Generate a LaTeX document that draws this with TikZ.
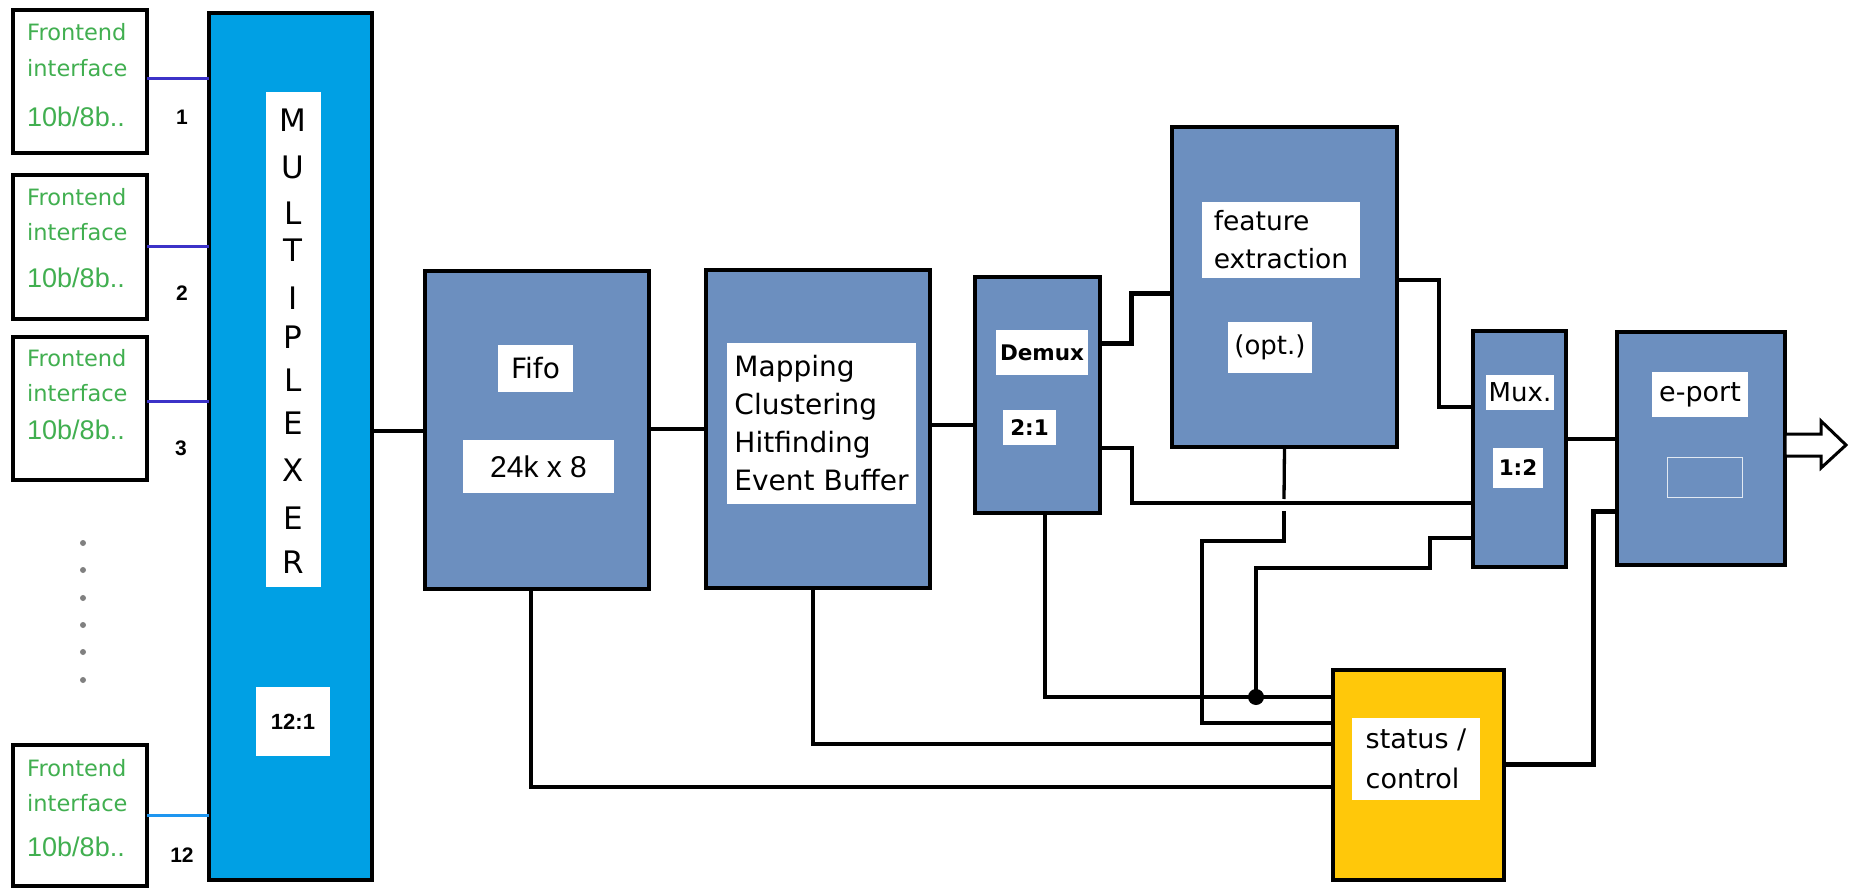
\documentclass[tikz,border=0pt]{standalone}
\usepackage{fontspec}
\setmainfont{DejaVu Sans}
\newfontfamily\arialf{Liberation Sans}
\definecolor{muxblue}{RGB}{0,160,228}
\definecolor{blkblue}{RGB}{108,143,191}
\definecolor{statyel}{RGB}{255,200,10}
\definecolor{fegreen}{RGB}{65,175,80}
\definecolor{wireA}{RGB}{60,50,200}
\definecolor{wireB}{RGB}{30,150,240}
\begin{document}
\begin{tikzpicture}[x=1pt,y=-1pt,
  box/.style={draw=black, line width=4.5pt, anchor=north west, inner sep=0pt, outer sep=0pt},
  blk/.style={box, fill=blkblue},
  febox/.style={draw=black, line width=4pt, anchor=north west, inner sep=0pt, outer sep=0pt, fill=white, minimum width=134},
  lbl/.style={fill=white, anchor=north west, inner sep=0pt, outer sep=0pt, font=\fontsize{27}{38}\selectfont},
  fetxt/.style={anchor=west, inner sep=0pt, text=fegreen, font=\fontsize{22.5}{26}\selectfont},
  fenum/.style={anchor=west, inner sep=0pt, text=fegreen, font=\arialf\fontsize{27}{30}\selectfont},
  numl/.style={inner sep=0pt, font=\arialf\bfseries\fontsize{21}{24}\selectfont},
  muxl/.style={inner sep=0pt, font=\fontsize{31}{36}\selectfont},
  bl/.style={font=\bfseries\fontsize{21.5}{28}\selectfont},
  wire/.style={draw=black, line width=3.3pt},
  thickwire/.style={draw=black, line width=5pt},
  fewire/.style={draw=wireA, line width=3pt}
]
\useasboundingbox (0,0) rectangle (1850,888);

% ---------- frontend boxes ----------
\node[febox, minimum height=143] (fe1) at (13,10) {};
\node[febox, minimum height=144] (fe2) at (13,175) {};
\node[febox, minimum height=143] (fe3) at (13,337) {};
\node[febox, minimum height=141] (fe4) at (13,745) {};
\foreach \n/\ya/\yb/\yc in {1/32/68/117, 2/197/232/278, 3/358/393/430, 4/768/803/847}{
  \node[fetxt] (fetA\n) at (27,\ya) {Frontend};
  \node[fetxt] (fetB\n) at (27,\yb) {interface};
  \node[fenum] (fetC\n) at (27,\yc) {10b/8b..};
}
\node[numl] (n1) at (182,117) {1};
\node[numl] (n2) at (182,293) {2};
\node[numl] (n3) at (181,448) {3};
\node[numl] (n4) at (182,855) {12};
\foreach \yy [count=\i] in {543,570,598,625,652,680}
  \fill[gray] (83,\yy) circle [radius=3pt];

% ---------- multiplexer ----------
\node[box, fill=muxblue, minimum width=163, minimum height=867] (mux) at (209,13) {};
\node[fill=white, anchor=north west, inner sep=0pt, minimum width=55, minimum height=495] (muxs) at (266,92) {};
\foreach \l/\yy [count=\i] in {M/120,U/167,L/213,T/250,I/298,P/337,L/380,E/423,X/470,E/518,R/562}
  \node[muxl] (ml\i) at (293,\yy) {\l};
\node[lbl, minimum width=74, minimum height=69, font=\arialf\bfseries\fontsize{22}{26}\selectfont] (muxr) at (256,687) {12:1};

% ---------- fifo ----------
\node[blk, minimum width=224, minimum height=318] (fifo) at (425,271) {};
\node[lbl, minimum width=75, minimum height=47, font=\fontsize{28}{34}\selectfont] (fifoa) at (498,345) {Fifo};
\node[lbl, minimum width=151, minimum height=53, font=\arialf\fontsize{30}{34}\selectfont] (fifob) at (463,440) {24k x 8};

% ---------- mapping ----------
\node[blk, minimum width=224, minimum height=318] (map) at (706,270) {};
\node[lbl, minimum width=189, minimum height=161, align=left, font=\fontsize{28}{38}\selectfont] (mapa) at (727,343) {Mapping\\Clustering\\Hitfinding\\Event Buffer};

% ---------- demux ----------
\node[blk, minimum width=125, minimum height=236] (dmx) at (975,277) {};
\node[lbl, bl, minimum width=92, minimum height=45] (dmxa) at (996,330) {Demux};
\node[lbl, bl, minimum width=53, minimum height=35] (dmxb) at (1003,410) {2:1};

% ---------- feature extraction ----------
\node[blk, minimum width=225, minimum height=320] (feat) at (1172,127) {};
\node[lbl, minimum width=158, minimum height=76, align=left, font=\fontsize{26.5}{38}\selectfont] (feata) at (1202,202) {feature\\extraction};
\node[lbl, minimum width=84, minimum height=51, font=\fontsize{26}{30}\selectfont] (featb) at (1228,322) {(opt.)};

% ---------- mux ----------
\node[blk, minimum width=93, minimum height=236] (mx) at (1473,331) {};
\node[lbl, minimum width=68, minimum height=35, font=\fontsize{26}{30}\selectfont] (mxa) at (1486,375) {Mux.};
\node[lbl, bl, minimum width=50, minimum height=40] (mxb) at (1493,448) {1:2};

% ---------- e-port ----------
\node[blk, minimum width=168, minimum height=233] (ep) at (1617,332) {};
\node[lbl, minimum width=96, minimum height=45, font=\fontsize{27}{30}\selectfont] (epa) at (1652,372) {e-port};
\node[draw=white!80!blkblue, line width=1.2pt, fill=blkblue, anchor=north west, inner sep=0pt, minimum width=75, minimum height=40] (epb) at (1667,457) {};

% ---------- status / control ----------
\node[box, fill=statyel, minimum width=171, minimum height=210] (st) at (1333,670) {};
\node[lbl, minimum width=128, minimum height=82, align=left, font=\fontsize{27}{40}\selectfont] (sta) at (1352,718) {status /\\control};

% ---------- connectors ----------
\draw[fewire] (fe1.east |- 0,79) -- (mux.west |- 0,79);
\draw[fewire] (fe2.east |- 0,246) -- (mux.west |- 0,246);
\draw[fewire] (fe3.east |- 0,401) -- (mux.west |- 0,401);
\draw[fewire, draw=wireB] (fe4.east |- 0,815) -- (mux.west |- 0,815);

\draw[wire] (mux.east |- 0,431) -- (fifo.west |- 0,431);
\draw[wire] (fifo.east |- 0,429) -- (map.west |- 0,429);
\draw[wire] (map.east |- 0,425) -- (dmx.west |- 0,425);

\draw[thickwire] (dmx.east |- 0,343) -- (1131,343) -- (1131,293) -- (feat.west |- 0,293);
\draw[wire, line width=4pt] (dmx.east |- 0,448) -- (1132,448) -- (1132,503) -- (mx.west |- 0,503);
\draw[wire] (feat.east |- 0,280) -- (1439,280) -- (1439,407) -- (mx.west |- 0,407);
\draw[wire] (mx.east |- 0,439) -- (ep.west |- 0,439);

\draw[wire] (feat.south) -- (1284,499);
\draw[wire] (1284,511) -- (1284,541) -- (1202,541) -- (1202,723) -- (st.west |- 0,723);
\draw[wire] (dmx.south -| 1045,0) -- (1045,697) -- (st.west |- 0,697);
\coordinate (jn) at (1256,697);
\fill (jn) circle [radius=8pt];
\draw[wire] (jn) -- (1256,568) -- (1430,568) -- (1430,538) -- (mx.west |- 0,538);
\draw[wire] (map.south -| 813,0) -- (813,744) -- (st.west |- 0,744);
\draw[wire] (fifo.south -| 531,0) -- (531,787) -- (st.west |- 0,787);
\draw[thickwire] (st.east |- 0,764) -- (1593,764) -- (1593,511) -- (ep.west |- 0,511);

% output arrow
\draw[draw=black, line width=3pt, fill=white, line join=miter]
  (ep.east |- 0,434) -- (1821,434) -- (1821,421) -- (1846,445) -- (1821,468) -- (1821,456) -- (ep.east |- 0,456) -- cycle;
\end{tikzpicture}
\end{document}
